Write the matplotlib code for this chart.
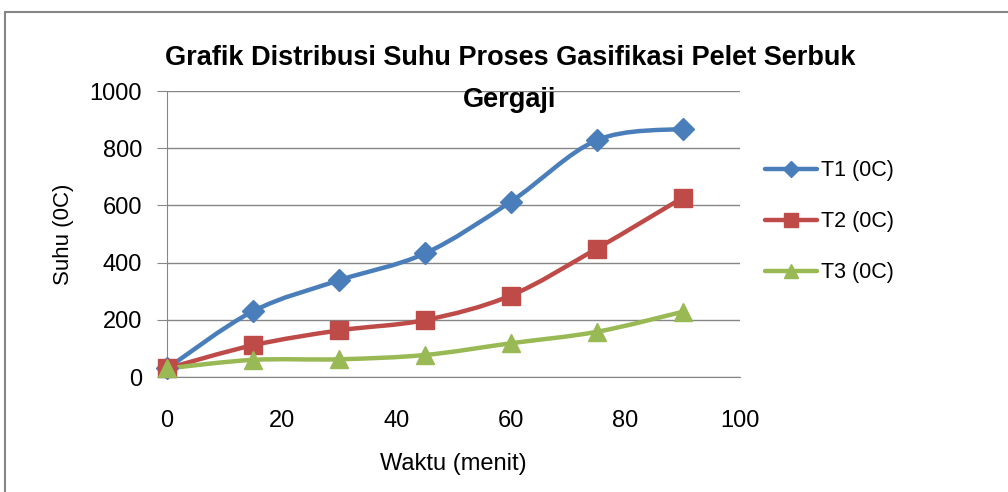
import matplotlib
matplotlib.use("Agg")
import matplotlib.pyplot as plt
from matplotlib.path import Path
from matplotlib.patches import PathPatch, Rectangle
from matplotlib.lines import Line2D

plt.rcParams["font.family"] = ["Liberation Sans Narrow", "Liberation Sans", "DejaVu Sans"]

waktu = [0, 15, 30, 45, 60, 75, 90]
t1 = [30, 230, 338, 432, 613, 828, 868]
t2 = [30, 111, 163, 199, 285, 449, 627]
t3 = [30, 60, 62, 77, 118, 158, 228]

series = [
    ("T1 (0C)", t1, "#4A7EBB", "D", 11),
    ("T2 (0C)", t2, "#BE4B48", "s", 13),
    ("T3 (0C)", t3, "#98B954", "^", 13),
]


def smooth_path(xs, ys):
    # Excel-style smoothed line: cubic Bezier through every point
    pts = list(zip(xs, ys))
    verts = [pts[0]]
    codes = [Path.MOVETO]
    n = len(pts)
    for i in range(n - 1):
        p0 = pts[i - 1] if i > 0 else pts[i]
        p1 = pts[i]
        p2 = pts[i + 1]
        p3 = pts[i + 2] if i + 2 < n else pts[i + 1]
        c1 = (p1[0] + (p2[0] - p0[0]) / 6, p1[1] + (p2[1] - p0[1]) / 6)
        c2 = (p2[0] - (p3[0] - p1[0]) / 6, p2[1] - (p3[1] - p1[1]) / 6)
        verts += [c1, c2, p2]
        codes += [Path.CURVE4] * 3
    return Path(verts, codes)


fig = plt.figure(figsize=(10.08, 4.92), dpi=100)
ax = fig.add_axes([0.1657, 0.2337, 0.5684, 0.5813])

handles = []
for label, vals, color, marker, ms in series:
    ax.add_patch(PathPatch(smooth_path(waktu, vals), facecolor="none",
                           edgecolor=color, lw=3.2, capstyle="round",
                           joinstyle="round", clip_on=False, zorder=3))
    ax.plot(waktu, vals, linestyle="none", marker=marker, markersize=ms,
            color=color, clip_on=False, zorder=4)
    handles.append(Line2D([], [], color=color, lw=3.2, marker=marker,
                          markersize=ms * 0.75, solid_capstyle="round"))

ax.set_xlim(0, 100)
ax.set_ylim(0, 1000)
ax.set_xticks([0, 20, 40, 60, 80, 100])
ax.set_yticks([0, 200, 400, 600, 800, 1000])
ax.tick_params(axis="y", length=7, color="#868686", labelsize=17, pad=11)
ax.tick_params(axis="x", length=0, labelsize=17, pad=24)
ax.grid(axis="y", color="#868686", lw=1)
ax.set_axisbelow(True)
for side in ["top", "right"]:
    ax.spines[side].set_visible(False)
for side in ["left", "bottom"]:
    ax.spines[side].set_color("#868686")

ax.set_xlabel("Waktu (menit)", fontsize=17, labelpad=15)
ax.set_ylabel("Suhu (0C)", fontsize=16, labelpad=11)

fig.text(0.506, 0.882, "Grafik Distribusi Suhu Proses Gasifikasi Pelet Serbuk",
         ha="center", va="center", fontsize=19.5, fontweight="bold")
fig.text(0.506, 0.797, "Gergaji", ha="center", va="center",
         fontsize=19.5, fontweight="bold")

fig.legend(handles, [s[0] for s in series], loc="upper left",
           bbox_to_anchor=(0.74, 0.714), frameon=False, fontsize=15.5,
           handlelength=2.4, handletextpad=0.2, labelspacing=1.4)

fig.add_artist(Rectangle((5 / 1008, -0.5), 2.0, 1.5 - 12 / 492,
                         transform=fig.transFigure, fill=False,
                         edgecolor="#868686", lw=1.5, clip_on=False))

fig.savefig("out.png", dpi=100)
